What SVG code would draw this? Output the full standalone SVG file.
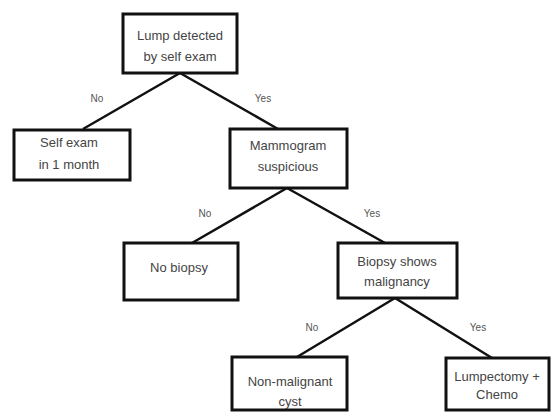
<svg xmlns="http://www.w3.org/2000/svg" width="551" height="412" viewBox="0 0 551 412">
<style>
.box{fill:#fff;stroke:#111;stroke-width:3}
.t{font-family:"Liberation Sans",Arial,sans-serif;font-size:13px;fill:#444;text-anchor:middle}
.l{font-family:"Liberation Sans",Arial,sans-serif;font-size:10px;fill:#555;text-anchor:middle}
.c{stroke:#111;stroke-width:2.5;fill:none}
</style>
<rect width="551" height="412" fill="#fff"/>
<g id="connectors">
<path class="c" d="M180 73 L83 129 M180 73 L278 129"/>
<path class="c" d="M287 188 L192 243 M287 188 L385 243"/>
<path class="c" d="M395 298 L297 357 M395 298 L492 358"/>
<text class="l" x="97" y="102">No</text>
<text class="l" x="263" y="102">Yes</text>
<text class="l" x="205" y="217">No</text>
<text class="l" x="372" y="217">Yes</text>
<text class="l" x="312" y="331">No</text>
<text class="l" x="478" y="331">Yes</text>
</g>
<g id="lump">
<rect class="box" x="123" y="14" width="114" height="59"/>
<text class="t" x="180" y="40">Lump detected</text>
<text class="t" x="180" y="61">by self exam</text>
</g>
<g id="selfexam">
<rect class="box" x="14" y="130" width="116" height="50"/>
<text class="t" x="69" y="147">Self exam</text>
<text class="t" x="69" y="169">in 1 month</text>
</g>
<g id="mammogram">
<rect class="box" x="230" y="129" width="117" height="59"/>
<text class="t" x="288" y="150">Mammogram</text>
<text class="t" x="288" y="171">suspicious</text>
</g>
<g id="nobiopsy">
<rect class="box" x="124" y="243" width="114" height="57"/>
<text class="t" x="179" y="272">No biopsy</text>
</g>
<g id="biopsy">
<rect class="box" x="338" y="243" width="119" height="55"/>
<text class="t" x="397" y="266">Biopsy shows</text>
<text class="t" x="397" y="286">malignancy</text>
</g>
<g id="cyst">
<rect class="box" x="232" y="357" width="115" height="53"/>
<text class="t" x="290" y="386">Non-malignant</text>
<text class="t" x="290" y="406">cyst</text>
</g>
<g id="lumpectomy">
<rect class="box" x="446" y="358" width="103" height="52"/>
<text class="t" x="497" y="381">Lumpectomy +</text>
<text class="t" x="497" y="399">Chemo</text>
</g>
</svg>
